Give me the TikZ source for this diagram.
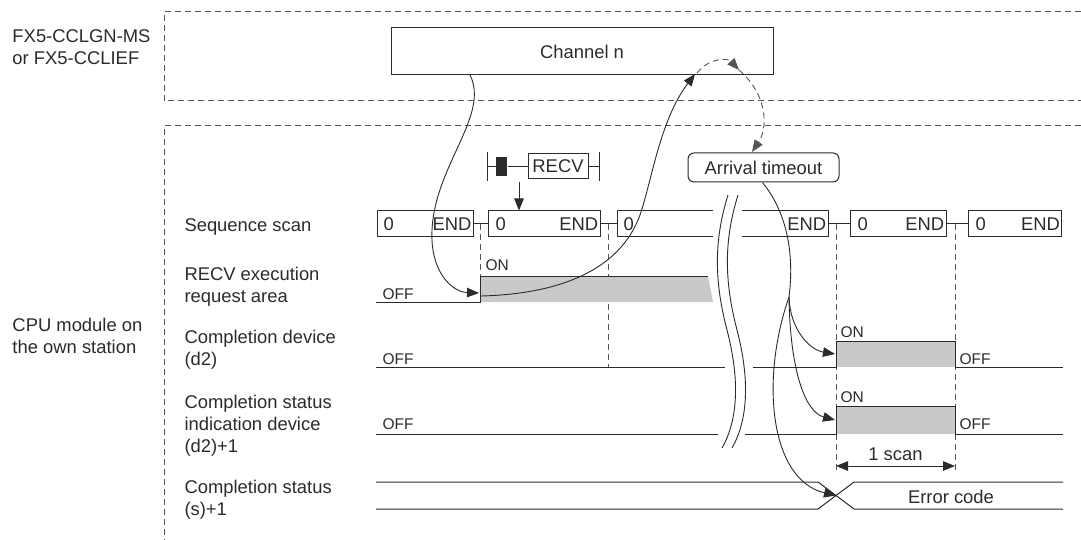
\documentclass[tikz,border=0pt]{standalone}
\usepackage{fontspec}
\setmainfont{Liberation Sans}
\usetikzlibrary{arrows.meta}
\definecolor{ink}{HTML}{2B2B2B}
\definecolor{dashc}{HTML}{555555}
\definecolor{fillg}{HTML}{C8C9CA}
\begin{document}
\begin{tikzpicture}[x=1pt,y=-1pt,color=ink,line width=1pt,
  lbl/.style={font=\fontsize{18.4}{22}\selectfont,inner sep=0pt,anchor=base west},
  lblr/.style={font=\fontsize{18.4}{22}\selectfont,inner sep=0pt,anchor=base east},
  lblc/.style={font=\fontsize{18.4}{22}\selectfont,inner sep=0pt,anchor=base},
  onoff/.style={font=\fontsize{15.5}{18}\selectfont,inner sep=0pt,anchor=base west},
  dsh/.style={dashc,dash pattern=on 6pt off 4pt},
  arr/.style={-{Triangle[length=12pt,width=9.5pt]}},
  arrb/.style={{Triangle[length=12pt,width=9.5pt]}-{Triangle[length=12pt,width=9.5pt]}},
  box/.style={draw,inner sep=0pt,font=\fontsize{18.4}{22}\selectfont}]
\useasboundingbox (0,0) rectangle (1081,540);

% dashed frames
\draw[dsh] (1081,11.7) -- (164,11.7) -- (164,101) -- (1081,101);
\draw[dsh] (1081,126) -- (164,126) -- (164,540);

% left labels
\node[lbl] (fx1) at (12,42.7) {FX5-CCLGN-MS};
\node[lbl] (fx2) at (12,64.7) {or FX5-CCLIEF};
\node[lbl] (cpu1) at (12,331) {CPU module on};
\node[lbl] (cpu2) at (12,353) {the own station};

\node[lbl] (l1) at (184,231.5) {Sequence scan};
\node[lbl] (l2a) at (184,280) {RECV execution};
\node[lbl] (l2b) at (184,302) {request area};
\node[lbl] (l3a) at (184,343) {Completion device};
\node[lbl] (l3b) at (184,365) {(d2)};
\node[lbl] (l4a) at (184,408) {Completion status};
\node[lbl] (l4b) at (184,430) {indication device};
\node[lbl] (l4c) at (184,452) {(d2)+1};
\node[lbl] (l5a) at (184,493) {Completion status};
\node[lbl] (l5b) at (184,515) {(s)+1};

% channel box and arrival timeout
\node[box,minimum width=382pt,minimum height=47pt] (chan) at (582,51.5) {Channel n};
\node[box,rounded corners=6pt,minimum width=151pt,minimum height=29pt] (arto) at (763.5,167.5) {Arrival timeout};

% RECV contact
\coordinate (cl1) at (487,152); \coordinate (cl2) at (487,181);
\coordinate (cr1) at (599,152); \coordinate (cr2) at (599,181);
\draw (cl1) -- (cl2);
\draw (cr1) -- (cr2);
\node[fill=ink,minimum width=11pt,minimum height=19pt,inner sep=0pt] (blk) at (501.5,166.5) {};
\node[box,minimum width=60pt,minimum height=25pt] (recv) at (558,166.5) {RECV};
\coordinate (cm) at (487,166.5);
\coordinate (cmr) at (599,166.5);
\draw (cm) -- (blk.west);
\draw (blk.east) -- (recv.west);
\draw (recv.east) -- (cmr);

% sequence scan boxes
\node[box,minimum width=96pt,minimum height=25pt] (s1) at (425.3,223.5) {};
\node[box,minimum width=112pt,minimum height=25pt] (s2) at (544.2,223.5) {};
\node[box,minimum width=95.3pt,minimum height=25pt] (s4) at (898.4,223.5) {};
\node[box,minimum width=93.7pt,minimum height=25pt] (s5) at (1014.9,223.5) {};
\draw (713,211) -- (617,211) -- (617,236) -- (713,236);
\draw (742,211) -- (828,211) -- (828,236) -- (742,236);
\coordinate (s3l) at (617,223.5);
\coordinate (s3r) at (828,223.5);
\node[lbl] (t1a) at (383,230.5) {0};
\node[lblr] (t1b) at (472,230.5) {END};
\node[lbl] (t2a) at (495,230.5) {0};
\node[lblr] (t2b) at (598.7,230.5) {END};
\node[lbl] (t3a) at (623,230.5) {0};
\node[lblr] (t3b) at (826.7,230.5) {END};
\node[lbl] (t4a) at (857,230.5) {0};
\node[lblr] (t4b) at (944.7,230.5) {END};
\node[lbl] (t5a) at (975,230.5) {0};
\node[lblr] (t5b) at (1060.5,230.5) {END};
\draw (s1.east) -- (s2.west);
\draw (s2.east) -- (s3l);
\draw (s3r) -- (s4.west);
\draw (s4.east) -- (s5.west);

% RECV arrow to scan
\coordinate (ra) at (519,182);
\draw[arr] (ra) -- (s2.north -| ra);

% dashed timing guides
\coordinate (g1t) at (480,223.5); \coordinate (g1b) at (480,276);
\coordinate (g2t) at (608,223.5); \coordinate (g2b) at (608,367);
\coordinate (g3t) at (836,223.5); \coordinate (g3b) at (836,473);
\coordinate (g4t) at (955,223.5); \coordinate (g4b) at (955,473);
\draw[dsh] (g1t) -- (g1b);
\draw[dsh] (g2t) -- (g2b);
\draw[dsh] (g3t) -- (g3b);
\draw[dsh] (g4t) -- (g4b);

% RECV execution request area
\fill[fillg] (480,276) -- (708,276) -- (713,302) -- (480,302) -- cycle;
\draw (376,302) -- (480,302) -- (480,276) -- (708,276);
\node[onoff] (on1) at (485,270.5) {ON};
\node[onoff] (off1) at (382,299.5) {OFF};

% completion device
\fill[fillg] (836,341) rectangle (955,367);
\draw (376,367) -- (725,367);
\draw (753,367) -- (836,367) -- (836,341) -- (955,341) -- (955,367) -- (1063,367);
\node[onoff] (on2) at (840,337) {ON};
\node[onoff] (off2) at (382,364) {OFF};
\node[onoff] (off2r) at (959,364) {OFF};

% completion status indication device
\fill[fillg] (836,406) rectangle (955,434);
\draw (376,434) -- (718,434);
\draw (745,434) -- (836,434) -- (836,406) -- (955,406) -- (955,434) -- (1063,434);
\node[onoff] (on3) at (840,402) {ON};
\node[onoff] (off3) at (382,429) {OFF};
\node[onoff] (off3r) at (959,429.5) {OFF};

% 1 scan
\draw[arrb] (g3b |- 0,466) coordinate (sa) -- (g4b |- 0,466) coordinate (sb);
\node[lblc] (onescan) at (895.5,460.5) {1 scan};

% completion status bus
\draw (376,482) -- (818,482) -- (854,509) -- (1063,509);
\draw (376,509) -- (818,509) -- (854,482) -- (1063,482);
\coordinate (xc) at (836,495.5);
\node[lblc] (err) at (951,503) {Error code};

% break marks
\draw[line width=0.9pt] (728,195) .. controls (714,240) and (714,280) .. (727,330) .. controls (740,380) and (738,420) .. (722,448);
\draw[line width=0.9pt] (738,195) .. controls (724,240) and (724,280) .. (737,330) .. controls (750,380) and (748,420) .. (732,448);

% flow arrows
\coordinate (c1s) at (470,75);
\coordinate (c1e) at (479,293);
\draw[arr,line width=0.9pt] (c1s) .. controls (490,115) and (435,165) .. (432,230) .. controls (430,272) and (452,292) .. (c1e);
\coordinate (c2s) at (481,296);
\coordinate (c2e) at (695,74);
\draw[arr,line width=0.9pt] (c2s) .. controls (560,294) and (620,270) .. (640,215) .. controls (652,180) and (660,120) .. (c2e);
\coordinate (dm) at (739,70);
\coordinate (de) at (752,152);
\draw[dsh,line width=0.9pt,arr] (697,73) .. controls (710,57) and (728,58) .. (dm);
\draw[dsh,line width=0.9pt,arr] (dm) .. controls (768,95) and (768,128) .. (de);
\coordinate (bp) at (789,297);
\coordinate (ea) at (835,354);
\coordinate (eb) at (835,420);
\draw[line width=0.9pt] (arto.south) ++(-1,0) coordinate (ts) .. controls (785,210) and (795,250) .. (bp);
\draw[arr,line width=0.9pt] (bp) .. controls (790,330) and (810,350) .. (ea);
\draw[arr,line width=0.9pt] (bp) .. controls (790,370) and (805,412) .. (eb);
\draw[arr,line width=0.9pt] (bp) .. controls (760,380) and (770,480) .. (xc);
\end{tikzpicture}
\end{document}
